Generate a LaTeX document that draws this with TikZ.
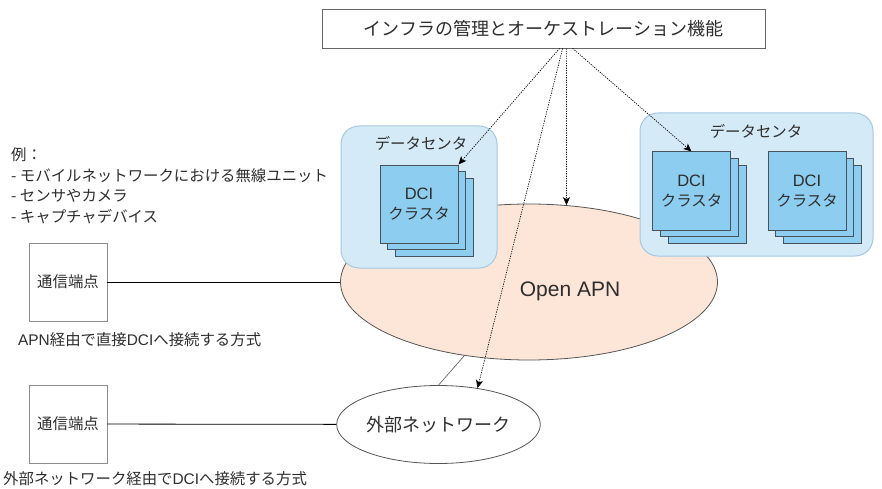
\documentclass[tikz,border=0pt]{standalone}
\usepackage{fontspec}
\setmainfont{Noto Sans CJK JP}
\newfontfamily\la{Liberation Sans}
\usetikzlibrary{arrows.meta,shapes.geometric,calc}

\definecolor{dcfill}{HTML}{D4EAF7}
\definecolor{dcborder}{HTML}{A5C8E2}
\definecolor{clfill}{HTML}{8DCEF0}
\definecolor{clborder}{HTML}{46535D}
\definecolor{apnfill}{HTML}{FDE6D8}
\definecolor{txt}{HTML}{2E2E2E}
\definecolor{edge}{HTML}{555555}

\newcommand\setfs[2]{\fontsize{#1}{#2}\selectfont}
\newcommand\dcilabel{{\la\fontsize{16.5}{20}\selectfont DCI}\\クラスタ}

\begin{document}
\begin{tikzpicture}[x=1pt,y=-1pt,
  every node/.style={text=txt, inner sep=0pt},
  small/.style={font=\setfs{15.4}{20}},
  big/.style={font=\setfs{18}{22}},
  topbox/.style={draw=edge!90, fill=white, line width=0.8pt,
    minimum width=443, minimum height=39, big},
  dcbox/.style={draw=dcborder, fill=dcfill, line width=1pt, rounded corners=18pt},
  clbox/.style={draw=clborder, fill=clfill, line width=1pt,
    minimum width=78, minimum height=78},
  termbox/.style={draw=gray!90, fill=white, line width=0.8pt,
    minimum width=78, minimum height=78, small},
  conn/.style={draw=black, line width=0.8pt},
  ctl/.style={draw=black, line width=0.7pt, dash pattern=on 1.2pt off 1.2pt,
    -{Stealth[length=8pt,width=7pt,inset=2pt]}},
]
\useasboundingbox (0,0) rectangle (882,489);

% orchestration layer
\node[topbox] (mgmt) at (543.5,28.5) {インフラの管理とオーケストレーション機能};

% Open APN cloud
\node[ellipse, draw=edge, fill=apnfill, line width=0.8pt,
  minimum width=377, minimum height=156] (apn) at (529,282) {};
\node[font=\la\fontsize{21}{24}\selectfont] (apntext) at (570,291) {Open APN};

% left data centre
\node[dcbox, minimum width=156, minimum height=142] (dcA) at (419,197) {};
\node[small] (dcAtitle) at (421,143) {データセンタ};
\node[clbox] (dciA3) at (434.6,217.4) {};
\node[clbox] (dciA2) at (426.8,210.7) {};
\node[clbox, small, align=center] (dciA) at (419,204) {\dcilabel};

% right data centre
\node[dcbox, minimum width=233, minimum height=143] (dcB) at (756.5,184.5) {};
\node[small] (dcBtitle) at (756,131) {データセンタ};
\node[clbox] (dciB3) at (707.1,204) {};
\node[clbox] (dciB2) at (699.3,197.5) {};
\node[clbox, small, align=center] (dciB) at (691.5,191) {\dcilabel};
\node[clbox] (dciC3) at (822.6,204) {};
\node[clbox] (dciC2) at (814.8,197.5) {};
\node[clbox, small, align=center] (dciC) at (807,191) {\dcilabel};

% examples of endpoints
\node[small, anchor=west] (ex0) at (11,155) {例：};
\node[small, anchor=west] (ex1) at (11,175.5) {- モバイルネットワークにおける無線ユニット};
\node[small, anchor=west] (ex2) at (11,196) {- センサやカメラ};
\node[small, anchor=west] (ex3) at (11,216.5) {- キャプチャデバイス};

% endpoints
\node[termbox] (term1) at (68,282) {通信端点};
\node[small, anchor=west] (lab1) at (18,340) {{\la APN}経由で直接{\la DCI}へ接続する方式};
\node[termbox] (term2) at (68,424) {通信端点};
\node[small, anchor=west] (lab2) at (3,479) {外部ネットワーク経由で{\la DCI}へ接続する方式};

% external network
\node[ellipse, draw=edge, fill=white, line width=0.8pt,
  minimum width=195, minimum height=78, big] (ext) at (438.5,424.5) {外部ネットワーク};

% connections
\draw[conn] (term1) -- (apn);
\draw[conn] (term2) -- (ext);
\draw[draw=edge, line width=0.6pt] (ext.north) -- (apn);

% control arrows
\draw[ctl] ($(mgmt.south west)+(238,0)$) -- (dciA.north east);
\draw[ctl] ($(mgmt.south west)+(241,0)$) -- (ext.43);
\draw[ctl] ($(mgmt.south west)+(245,0)$) -- (apn.64);
\draw[ctl] ($(mgmt.south west)+(251,0)$) -- (dciB.north);
\end{tikzpicture}
\end{document}
